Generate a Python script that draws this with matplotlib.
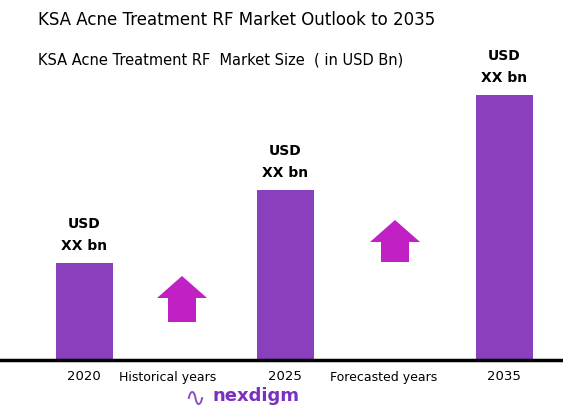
import matplotlib
matplotlib.use("Agg")
import matplotlib.pyplot as plt
from matplotlib.patches import FancyArrow

years = ["2020", "2025", "2035"]
values = [97, 170, 265]
bar_labels = ["USD\nXX bn", "USD\nXX bn", "USD\nXX bn"]
period_labels = ["Historical years", "Forecasted years"]

W, H = 563, 413
base = 360
fig = plt.figure(figsize=(W/100, H/100), dpi=100)
ax = fig.add_axes([0, 1-base/H, 1, base/H])
ax.set_xlim(0, W)
ax.set_ylim(0, base)
ax.axis("off")

xpos = [84, 285, 504]
bars = ax.bar(xpos, values, width=57, color="#8A3FBC")
for x, v, lab in zip(xpos, values, bar_labels):
    ax.text(x, v + 10, lab, ha="center", va="bottom", fontsize=10,
            fontweight="bold", linespacing=1.7)
ax.axhline(0, xmin=0, xmax=1, color="black", lw=2.5, clip_on=False)

for (cx, bottom, top) in [(182, base-322, base-276), (395, base-262, base-220)]:
    ax.add_patch(FancyArrow(cx, bottom, 0, top-bottom, width=28, head_width=50,
                            head_length=22, length_includes_head=True,
                            color="#C020C4", lw=0))

for x, t in zip(xpos, years):
    fig.text(x/W, 1-377/H, t, ha="center", va="center", fontsize=9.5)
fig.text(168/W, 1-377/H, period_labels[0], ha="center", va="center", fontsize=9)
fig.text(384/W, 1-377/H, period_labels[1], ha="center", va="center", fontsize=9)

fig.text(213/W, 1-396/H, "nexdigm", ha="left", va="center", fontsize=13,
         color="#7B2FBE", fontweight="bold")
fig.text(184/W, 1-398/H, "∿", ha="left", va="center", fontsize=18, color="#8A4FC8")

fig.text(38/W, 1-20/H, "KSA Acne Treatment RF Market Outlook to 2035",
         fontsize=12, va="center", ha="left")
fig.text(38/W, 1-60/H, "KSA Acne Treatment RF  Market Size  ( in USD Bn)",
         fontsize=10.5, va="center", ha="left")

fig.savefig("out.png", dpi=100, facecolor="white")
